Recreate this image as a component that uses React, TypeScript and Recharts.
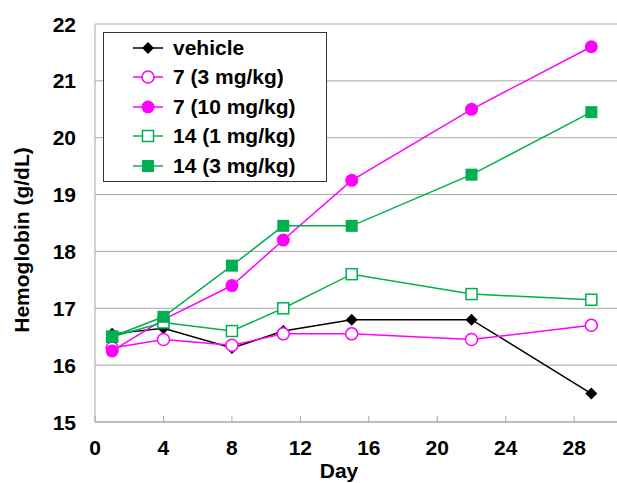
import React from 'react';
import { LineChart, Line, XAxis, YAxis, CartesianGrid, Legend } from 'recharts';

const DAYS = [1, 4, 8, 11, 15, 22, 29];
const VEHICLE = [16.55, 16.65, 16.3, 16.6, 16.8, 16.8, 15.5];
const C7_LOW = [16.3, 16.45, 16.35, 16.55, 16.55, 16.45, 16.7];
const C7_HIGH = [16.25, 16.8, 17.4, 18.2, 19.25, 20.5, 21.6];
const C14_LOW = [16.5, 16.75, 16.6, 17.0, 17.6, 17.25, 17.15];
const C14_HIGH = [16.5, 16.85, 17.75, 18.45, 18.45, 19.35, 20.45];

const X_TICKS = [0, 4, 8, 12, 16, 20, 24, 28];
const Y_TICKS = [15, 16, 17, 18, 19, 20, 21, 22];

const SERIES = [
  { key: 'vehicle', name: 'vehicle', color: '#000000', shape: 'diamond', values: VEHICLE },
  { key: 'c7low', name: '7 (3 mg/kg)', color: '#FF00FF', shape: 'openCircle', values: C7_LOW },
  { key: 'c7high', name: '7 (10 mg/kg)', color: '#FF00FF', shape: 'circle', values: C7_HIGH },
  { key: 'c14low', name: '14 (1 mg/kg)', color: '#00B050', shape: 'openSquare', values: C14_LOW },
  { key: 'c14high', name: '14 (3 mg/kg)', color: '#00B050', shape: 'square', values: C14_HIGH },
];

const data = DAYS.map((day, i) => {
  const row: Record<string, number> = { day };
  SERIES.forEach((s) => {
    row[s.key] = s.values[i];
  });
  return row;
});

const FONT = '"Liberation Sans", Arial, sans-serif';
const FS = 21;
const AXIS = '#a8a8a8';

function Marker({ shape, color, cx, cy }: { shape: string; color: string; cx: number; cy: number }) {
  if (shape === 'diamond') {
    const r = 6;
    return <path d={`M${cx},${cy - r}L${cx + r},${cy}L${cx},${cy + r}L${cx - r},${cy}Z`} fill={color} />;
  }
  if (shape === 'openCircle') {
    return <circle cx={cx} cy={cy} r={6} fill="#fff" stroke={color} strokeWidth={1.5} />;
  }
  if (shape === 'circle') {
    return <circle cx={cx} cy={cy} r={6.5} fill={color} />;
  }
  if (shape === 'openSquare') {
    return <rect x={cx - 5.5} y={cy - 5.5} width={11} height={11} fill="#fff" stroke={color} strokeWidth={1.5} />;
  }
  return <rect x={cx - 6} y={cy - 6} width={12} height={12} fill={color} />;
}

const XTick = ({ x, y, payload }: any) => (
  <g>
    <line x1={x} x2={x} y1={y} y2={y - 6} stroke={AXIS} />
    <text x={x} y={y + 33} textAnchor="middle" fontFamily={FONT} fontSize={FS} fontWeight="bold" fill="#000">
      {payload.value}
    </text>
  </g>
);

const YTick = ({ x, y, payload }: any) => (
  <text x={x - 19} y={y} dy="0.36em" textAnchor="end" fontFamily={FONT} fontSize={FS} fontWeight="bold" fill="#000">
    {payload.value}
  </text>
);

const renderLegend = () => (
  <div
    style={{
      width: 224,
      height: 150,
      border: '1.5px solid #333',
      background: '#fff',
      boxSizing: 'border-box',
    }}
  >
    {SERIES.map((s) => (
      <div key={s.key} style={{ display: 'flex', alignItems: 'center', height: 29.5 }}>
        <svg width={69} height={30} style={{ flex: 'none' }}>
          <line x1={29} x2={59} y1={15} y2={15} stroke={s.color} strokeWidth={1.5} />
          <Marker shape={s.shape} color={s.color} cx={44} cy={15} />
        </svg>
        <span style={{ fontFamily: FONT, fontSize: FS, fontWeight: 'bold', color: '#000', whiteSpace: 'nowrap' }}>
          {s.name}
        </span>
      </div>
    ))}
  </div>
);

export default function App() {
  return (
    <div style={{ position: 'absolute', left: 0, top: 0, width: 617, height: 483, background: '#fff' }}>
      <LineChart width={617} height={483} data={data} margin={{ top: 24, right: 0, left: 0, bottom: 0 }}>
        <CartesianGrid vertical={false} stroke={AXIS} />
        <XAxis
          dataKey="day"
          type="number"
          domain={[0, 30.5]}
          ticks={X_TICKS}
          height={61}
          tickSize={0}
          tickMargin={0}
          tickLine={false}
          stroke={AXIS}
          tick={<XTick />}
          label={{
            value: 'Day',
            position: 'insideBottom',
            offset: 5,
            dx: -17,
            fontFamily: FONT,
            fontSize: FS,
            fontWeight: 'bold',
            fill: '#000',
          }}
          interval={0}
        />
        <YAxis
          type="number"
          domain={[15, 22]}
          ticks={Y_TICKS}
          width={95}
          tickSize={0}
          tickMargin={0}
          tickLine={false}
          stroke={AXIS}
          tick={<YTick />}
          interval={0}
          label={{
            value: 'Hemoglobin (g/dL)',
            angle: -90,
            position: 'insideLeft',
            offset: 22,
            dy: 17,
            fontFamily: FONT,
            fontSize: FS,
            fontWeight: 'bold',
            fill: '#000',
            style: { textAnchor: 'middle' },
          }}
        />
        <Legend
          layout="horizontal"
          verticalAlign="middle"
          align="center"
          content={renderLegend}
          wrapperStyle={{ position: 'absolute', left: 103, top: 32, width: 'auto', height: 'auto' }}
        />
        {SERIES.map((s) => (
          <Line
            key={s.key}
            dataKey={s.key}
            name={s.name}
            type="linear"
            stroke={s.color}
            strokeWidth={1.5}
            isAnimationActive={false}
            dot={(p: any) => <Marker key={`${s.key}-${p.index}`} shape={s.shape} color={s.color} cx={p.cx} cy={p.cy} />}
            activeDot={false}
          />
        ))}
      </LineChart>
    </div>
  );
}
